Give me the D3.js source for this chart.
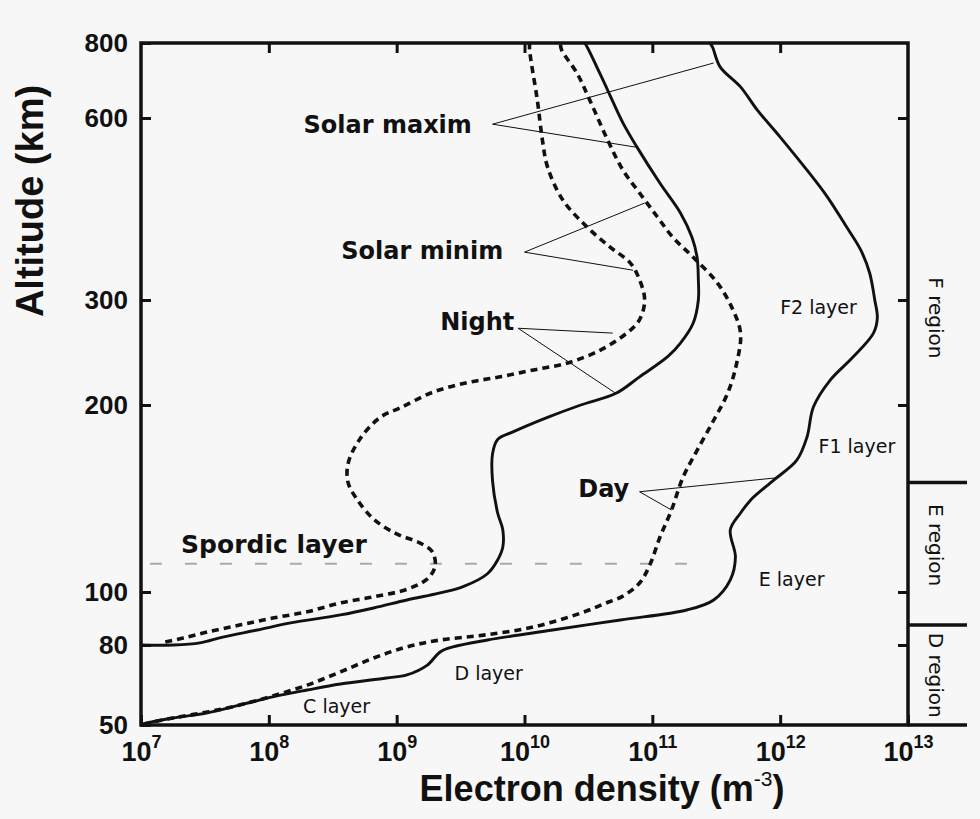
<!DOCTYPE html>
<html lang="en">
<head>
<meta charset="utf-8">
<script src="https://d3js.org/d3.v7.min.js"></script>
<style>
  body { margin: 0; background: #f7f7f7; }
  svg { display: block; }
</style>
</head>
<body>
<div id="chart"></div>
<script>
// density values are log10(Ne in m^-3), altitudes in km
const altTicks = [50, 80, 100, 200, 300, 600, 800];
const neExponents = [7, 8, 9, 10, 11, 12, 13];

const nightSolarMin = [[7.19,81],[7.33,82.4],[7.52,84.5],[7.77,87],[8.03,89.6],[8.30,92],[8.56,95.5],[8.82,98],[9.08,101],[9.24,105],[9.30,110],[9.28,116],[9.18,120],[9.00,124],[8.82,131],[8.69,141],[8.62,150],[8.62,161],[8.71,176],[8.87,191],[9.03,198],[9.28,210],[9.55,218],[9.81,223],[10.07,229],[10.33,235],[10.59,247],[10.80,264],[10.90,278],[10.94,300],[10.90,324],[10.83,345],[10.67,367],[10.49,396],[10.30,439],[10.18,498],[10.14,552],[10.10,643],[10.04,779],[10.04,800]];
const nightSolarMax = [[7.00,80],[7.25,80],[7.46,80.7],[7.64,82.7],[7.91,85.2],[8.17,87.8],[8.56,90.8],[8.82,93.5],[9.08,96.7],[9.34,99.6],[9.52,102],[9.71,107],[9.79,112.6],[9.83,118],[9.83,126],[9.79,134],[9.75,151],[9.75,167],[9.79,176],[9.91,181],[10.18,191],[10.44,200],[10.72,209.5],[10.90,223],[11.12,241],[11.22,254],[11.32,274.5],[11.36,300],[11.36,324],[11.35,353],[11.31,381],[11.22,418],[11.06,468],[10.88,537],[10.77,589],[10.65,668],[10.49,788],[10.47,800]];
const daySolarMin = [[7.02,50.3],[7.25,52.1],[7.52,54],[7.77,56.2],[8.03,59.3],[8.30,63.2],[8.56,68.3],[8.82,74.1],[9.08,79.1],[9.34,81.7],[9.68,83.4],[10.07,86.3],[10.44,91.5],[10.62,95.1],[10.77,98.3],[10.90,103.4],[10.98,110.5],[11.06,122.6],[11.15,135.5],[11.24,153],[11.35,169],[11.48,189],[11.59,209.5],[11.66,235],[11.69,264],[11.63,289],[11.51,320],[11.32,353],[11.16,381],[11.04,411.5],[10.90,451],[10.77,492],[10.65,552],[10.51,643],[10.41,713],[10.29,779],[10.28,800]];
const daySolarMax = [[7.00,50],[7.05,50.6],[7.25,52.1],[7.52,53.7],[7.77,56.2],[8.03,59],[8.30,61.4],[8.56,63.6],[8.92,65.9],[9.08,67.1],[9.24,71.1],[9.34,76.8],[9.44,79.1],[9.71,81.7],[10.22,85.2],[10.75,88.9],[11.27,92.7],[11.48,96.7],[11.61,104.6],[11.65,113.9],[11.61,125.9],[11.69,134],[11.77,140.7],[11.95,151.4],[12.13,163],[12.21,177.6],[12.26,198.5],[12.39,220],[12.57,240.7],[12.73,264],[12.76,280],[12.74,300],[12.70,332.5],[12.63,363],[12.52,396],[12.37,444],[12.21,492],[12.00,558],[11.82,619],[11.69,676],[11.53,730],[11.47,788],[11.45,800]];

const sporadicAlt = 111;
const sporadicSpan = [7.07, 11.35];

const regionNames = ["F region", "E region", "D region"];
const regionLower = [150, 87, 50];
const regionLabelAlt = [280, 119, 67];

const layerNames = ["F2 layer", "F1 layer", "E layer", "D layer", "C layer"];
const layerAt = [[12.30, 292], [12.60, 172], [12.09, 105], [9.72, 68], [8.53, 56]];

const calloutNames = ["Solar maxim", "Solar minim", "Night", "Day"];
const calloutAt = [[8.93, 586], [9.20, 363], [9.63, 276], [10.62, 147]];
const calloutFrom = [[9.75, 586], [10.0, 360], [9.95, 269], [10.90, 145]];
const calloutTo = [
  [[11.48, 741], [10.87, 537]],
  [[10.94, 434], [10.85, 336]],
  [[10.69, 264], [10.71, 209.5]],
  [[11.96, 152.6], [11.15, 135.5]]
];

const width = 980, height = 819;
const plotLeft = 141, plotRight = 908, plotTop = 43, plotBottom = 725;
const regionEdge = 967;

const svg = d3.select("#chart").append("svg")
  .attr("width", width).attr("height", height);

const x = d3.scaleLog().domain([1e7, 1e13]).range([plotLeft, plotRight]);
// the altitude axis of the original is not a clean log axis, so use a piecewise log scale
const y = d3.scaleLog().domain(altTicks).range([725, 645, 592, 405, 300, 118, 43]);
const px = v => x(Math.pow(10, v));

const ink = "#111";

// axes: ticks pointing inward
const innerDens = neExponents.slice(1, -1).map(e => Math.pow(10, e));
const innerAlt = altTicks.slice(1, -1);

svg.append("g").attr("transform", `translate(0,${plotTop})`)
  .call(d3.axisTop(x).tickValues(innerDens).tickSize(-10).tickFormat(""));
svg.append("g").attr("transform", `translate(${plotRight},0)`)
  .call(d3.axisRight(y).tickValues(innerAlt).tickSize(-10).tickFormat(""));

const xAxis = svg.append("g").attr("transform", `translate(0,${plotBottom})`)
  .call(d3.axisBottom(x).tickValues(neExponents.map(e => Math.pow(10, e))).tickSize(-10));
xAxis.selectAll(".tick text").each(function(d) {
  const t = d3.select(this).text(null)
    .attr("y", 36).attr("dy", 0)
    .attr("font-family", "Liberation Sans, Arial, sans-serif")
    .attr("font-weight", "bold").attr("font-size", 27).attr("fill", ink);
  t.append("tspan").text("10");
  t.append("tspan").attr("dy", -13).attr("font-size", 18).text(Math.round(Math.log10(d)));
});

const yAxis = svg.append("g").attr("transform", `translate(${plotLeft},0)`)
  .call(d3.axisLeft(y).tickValues(altTicks).tickSize(-10).tickPadding(13).tickFormat(d3.format("d")));
yAxis.selectAll(".tick text")
  .attr("x", -13)
  .attr("font-family", "Liberation Sans, Arial, sans-serif")
  .attr("font-weight", "bold").attr("font-size", 26).attr("fill", ink);

svg.selectAll(".domain").remove();
svg.selectAll(".tick line").attr("stroke", ink).attr("stroke-width", 3);

// frame
svg.append("rect")
  .attr("x", plotLeft).attr("y", plotTop)
  .attr("width", plotRight - plotLeft).attr("height", plotBottom - plotTop)
  .attr("fill", "none").attr("stroke", ink).attr("stroke-width", 3.5);

// region column on the right
svg.selectAll(".region-line").data(regionLower).enter().append("line")
  .attr("x1", plotRight).attr("x2", regionEdge)
  .attr("y1", d => y(d)).attr("y2", d => y(d))
  .attr("stroke", ink).attr("stroke-width", 3.5);

svg.selectAll(".region-label").data(regionNames).enter().append("text")
  .attr("transform", (d, i) => `translate(${(plotRight + regionEdge) / 2 - 2},${y(regionLabelAlt[i])}) rotate(90)`)
  .attr("text-anchor", "middle").attr("dy", "0.35em")
  .attr("font-family", "DejaVu Sans, sans-serif").attr("font-size", 20).attr("fill", ink)
  .text(d => d);

// sporadic E line
svg.append("line")
  .attr("x1", px(sporadicSpan[0])).attr("x2", px(sporadicSpan[1]))
  .attr("y1", y(sporadicAlt)).attr("y2", y(sporadicAlt))
  .attr("stroke", "#aaa").attr("stroke-width", 2).attr("stroke-dasharray", "12,23");

// profiles
const line = d3.line().x(d => px(d[0])).y(d => y(d[1])).curve(d3.curveCatmullRom.alpha(0.5));
const profiles = [
  [nightSolarMin, true], [nightSolarMax, false], [daySolarMin, true], [daySolarMax, false]
];
svg.selectAll(".profile").data(profiles).enter().append("path")
  .attr("d", d => line(d[0]))
  .attr("fill", "none").attr("stroke", ink)
  .attr("stroke-width", d => d[1] ? 3.6 : 2.9)
  .attr("stroke-dasharray", d => d[1] ? "7,5" : null)
  .attr("stroke-linejoin", "round");

// callout leaders
calloutFrom.forEach((f, i) => {
  calloutTo[i].forEach(t => {
    svg.append("line")
      .attr("x1", px(f[0])).attr("y1", y(f[1]))
      .attr("x2", px(t[0])).attr("y2", y(t[1]))
      .attr("stroke", ink).attr("stroke-width", 1);
  });
});

svg.selectAll(".callout").data(calloutNames).enter().append("text")
  .attr("x", (d, i) => px(calloutAt[i][0])).attr("y", (d, i) => y(calloutAt[i][1]))
  .attr("dy", "0.36em").attr("text-anchor", "middle")
  .attr("font-family", "DejaVu Sans, sans-serif").attr("font-weight", "bold")
  .attr("font-size", 24).attr("fill", ink)
  .text(d => d);

svg.append("text")
  .attr("x", px(8.04)).attr("y", y(119.5)).attr("dy", "0.36em").attr("text-anchor", "middle")
  .attr("font-family", "DejaVu Sans, sans-serif").attr("font-weight", "bold")
  .attr("font-size", 25).attr("fill", ink)
  .text("Spordic layer");

svg.selectAll(".layer").data(layerNames).enter().append("text")
  .attr("x", (d, i) => px(layerAt[i][0])).attr("y", (d, i) => y(layerAt[i][1]))
  .attr("dy", "0.36em").attr("text-anchor", "middle")
  .attr("font-family", "DejaVu Sans, sans-serif").attr("font-size", 19).attr("fill", ink)
  .text(d => d);

// axis titles
svg.append("text")
  .attr("transform", `translate(43,201) rotate(-90)`)
  .attr("text-anchor", "middle")
  .attr("font-family", "Liberation Sans, Arial, sans-serif").attr("font-weight", "bold")
  .attr("font-size", 38).attr("fill", ink)
  .text("Altitude (km)");

const xt = svg.append("text")
  .attr("x", 602).attr("y", 801).attr("text-anchor", "middle")
  .attr("font-family", "Liberation Sans, Arial, sans-serif").attr("font-weight", "bold")
  .attr("font-size", 36).attr("fill", ink);
xt.append("tspan").text("Electron density (m");
xt.append("tspan").attr("dy", -15).attr("font-size", 21).attr("font-weight", "normal").text("-3");
xt.append("tspan").attr("dy", 15).text(")");
</script>
</body>
</html>
